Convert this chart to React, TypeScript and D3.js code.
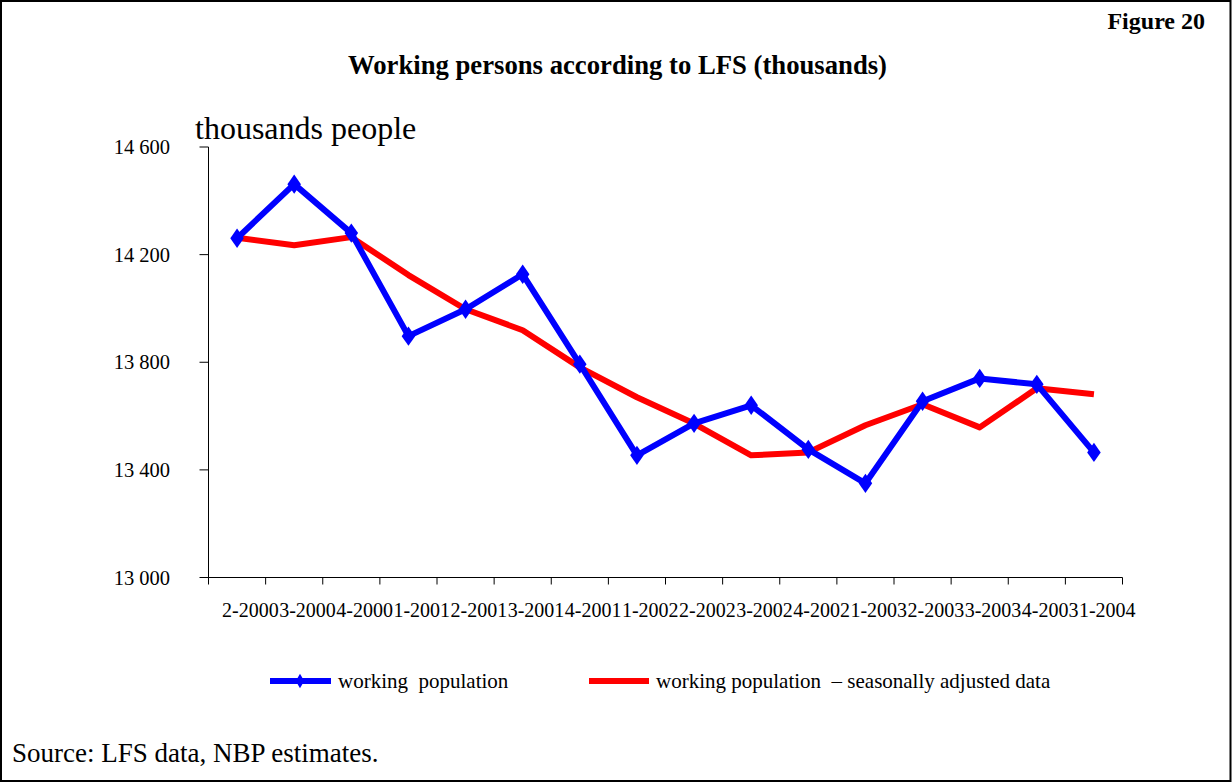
import React from "react";
import * as d3 from "d3";

const quarters = [
  "2-2000", "3-2000", "4-2000", "1-2001", "2-2001", "3-2001", "4-2001", "1-2002",
  "2-2002", "3-2002", "4-2002", "1-2003", "2-2003", "3-2003", "4-2003", "1-2004",
];
const workingPopulation = [
  14261, 14462, 14280, 13897, 13997, 14127, 13793, 13454,
  13573, 13640, 13476, 13350, 13655, 13740, 13718, 13465,
];
const workingPopulationSA = [
  14263, 14235, 14265, 14124, 13997, 13919, 13781, 13670,
  13572, 13454, 13465, 13566, 13644, 13558, 13703, 13681,
];
const yTicks = [13000, 13400, 13800, 14200, 14600];

const W = 1232;
const H = 782;
const FONT = "'Liberation Serif', 'Times New Roman', serif";

export default function App() {
  const x0 = 208.5;
  const x1 = 1122.5;
  const yTop = 147;
  const yBot = 577.5;

  const x = d3.scaleBand<string>().domain(quarters).range([x0, x1]).padding(0);
  const y = d3.scaleLinear().domain([13000, 14600]).range([yBot, yTop]);
  const cx = (q: string) => (x(q) ?? 0) + x.bandwidth() / 2;

  const line = d3
    .line<number>()
    .x((_, i) => cx(quarters[i]))
    .y((v) => y(v));

  const diamond = d3.symbol().type(d3.symbolDiamond).size(120)();
  const legendDiamond = d3.symbol().type(d3.symbolDiamond).size(60)();
  const fmt = (v: number) => d3.format(",")(v).replace(",", " ");

  const boundaries = quarters.map((q) => x(q) ?? 0).concat([x1]);

  return (
    <svg
      width={W}
      height={H}
      style={{ position: "absolute", left: 0, top: 0, background: "#fff" }}
      fontFamily={FONT}
    >
      <rect x={1} y={1} width={W - 2.5} height={H - 2} fill="#fff" stroke="#000" strokeWidth={2} />

      <text x={1205} y={29} textAnchor="end" fontSize={24} fontWeight="bold">
        Figure 20
      </text>
      <text x={617.5} y={74} textAnchor="middle" fontSize={26.7} fontWeight="bold">
        Working persons according to LFS (thousands)
      </text>
      <text x={195} y={139} fontSize={32}>
        thousands people
      </text>

      {/* y axis */}
      <line x1={x0} x2={x0} y1={yTop} y2={yBot} stroke="#000" strokeWidth={1} />
      {yTicks.map((t) => (
        <g key={t}>
          <line x1={x0 - 9} x2={x0} y1={y(t)} y2={y(t)} stroke="#000" />
          <text x={170} y={y(t)} dy="0.35em" textAnchor="end" fontSize={20.5}>
            {fmt(t)}
          </text>
        </g>
      ))}

      {/* x axis */}
      <line x1={x0} x2={x1} y1={yBot} y2={yBot} stroke="#000" strokeWidth={1} />
      {boundaries.map((b, i) => (
        <line key={i} x1={b} x2={b} y1={yBot} y2={yBot + 7} stroke="#000" />
      ))}
      {quarters.map((q) => (
        <text key={q} x={(x(q) ?? 0) + 13.5} y={617} textAnchor="start" fontSize={20}>
          {q}
        </text>
      ))}

      {/* series */}
      <path
        d={line(workingPopulationSA) ?? ""}
        fill="none"
        stroke="#ff0000"
        strokeWidth={6}
        strokeLinejoin="round"
      />
      <path
        d={line(workingPopulation) ?? ""}
        fill="none"
        stroke="#0000ff"
        strokeWidth={6}
        strokeLinejoin="round"
      />
      {workingPopulation.map((v, i) => (
        <path
          key={i}
          d={diamond ?? ""}
          transform={`translate(${cx(quarters[i])},${y(v)}) scale(1.15,0.95)`}
          fill="#0000ff"
        />
      ))}

      {/* legend */}
      <line x1={270} x2={331} y1={681} y2={681} stroke="#0000ff" strokeWidth={6} />
      <path d={legendDiamond ?? ""} transform="translate(300,681)" fill="#0000ff" />
      <text x={338} y={688} fontSize={21}>
        {"working\u00a0\u00a0population"}
      </text>
      <line x1={589} x2={649} y1={681} y2={681} stroke="#ff0000" strokeWidth={6} />
      <text x={656} y={688} fontSize={21}>
        {"working population\u00a0\u00a0– seasonally adjusted data"}
      </text>

      <text x={12} y={762} fontSize={27}>
        Source: LFS data, NBP estimates.
      </text>
    </svg>
  );
}
